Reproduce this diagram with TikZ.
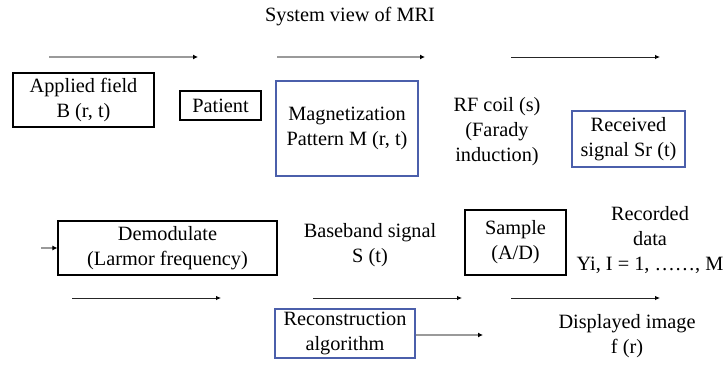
\documentclass[tikz,border=0pt]{standalone}
\usepackage{fontspec}
\setmainfont{Liberation Serif}
\usetikzlibrary{arrows.meta}
\definecolor{boxblue}{HTML}{4B5FAB}
\definecolor{flowgray}{HTML}{9A9A9A}
\tikzset{
  every node/.style={font=\fontsize{20.3}{25}\selectfont, align=center, inner sep=0pt},
  plainbox/.style={draw=black, line width=1.1pt},
  bluebox/.style={draw=boxblue, line width=1.3pt},
  grayflow/.style={draw=flowgray, line width=1.5pt, -{Latex[length=5pt,width=5pt,color=black]}},
  darkflow/.style={draw=black!85, line width=0.9pt, -{Latex[length=5pt,width=4.5pt,color=black]}},
}
\begin{document}
\begin{tikzpicture}[x=1pt,y=-1pt]
\useasboundingbox (0,0) rectangle (725,364);

% title
\node (title) at (350,17) {System view of MRI};

% first row of boxes
\node[plainbox, minimum width=141pt, minimum height=54pt] (applied) at (83.5,100) {Applied field\\B (r, t)};
\node[plainbox, minimum width=81pt, minimum height=29pt] (patient) at (220.5,105.5) {Patient};
\node[bluebox, minimum width=142pt, minimum height=95pt] (magnet) at (347,128.5) {Magnetization\\Pattern M (r, t)};
\node (rfcoil) at (497,132) {RF coil (s)\\(Farady\\induction)};
\node[bluebox, minimum width=113pt, minimum height=56pt] (received) at (628.5,139) {Received\\signal Sr (t)};

% second row
\node[plainbox, minimum width=219pt, minimum height=54pt] (demod) at (167.5,248) {Demodulate\\(Larmor frequency)};
\node (baseband) at (370,245.5) {Baseband signal\\S (t)};
\node[plainbox, minimum width=101pt, minimum height=65pt] (sample) at (515.5,242.5) {Sample\\(A/D)};
\node (recorded) at (650,240) {Recorded\\data\\Yi, I = 1, \dots\dots, M};

% third row
\node[bluebox, minimum width=140pt, minimum height=49pt] (recon) at (345,333.5) {Reconstruction\\algorithm};
\node (display) at (627,336.5) {Displayed image\\f (r)};

% flow arrows, top line
\coordinate (t1s) at (49,57);  \coordinate (t1e) at (198,57);
\coordinate (t2s) at (277,57); \coordinate (t2e) at (425,57);
\coordinate (t3s) at (511,57); \coordinate (t3e) at (660,57);
\draw[grayflow] (t1s) -- (t1e);
\draw[grayflow] (t2s) -- (t2e);
\draw[darkflow] (t3s) -- (t3e);

% short arrow into the demodulator
\coordinate (d0) at (41,248);
\draw[grayflow] (d0) -- (demod.west);

% flow arrows, bottom line
\coordinate (b1s) at (72,298);  \coordinate (b1e) at (221,298);
\coordinate (b2s) at (313,298); \coordinate (b2e) at (462,298);
\coordinate (b3s) at (511,298); \coordinate (b3e) at (660,298);
\draw[darkflow] (b1s) -- (b1e);
\draw[darkflow] (b2s) -- (b2e);
\draw[darkflow] (b3s) -- (b3e);

% output of the reconstruction
\coordinate (r1) at (483,335);
\draw[grayflow] (recon.east |- r1) -- (r1);
\end{tikzpicture}
\end{document}
